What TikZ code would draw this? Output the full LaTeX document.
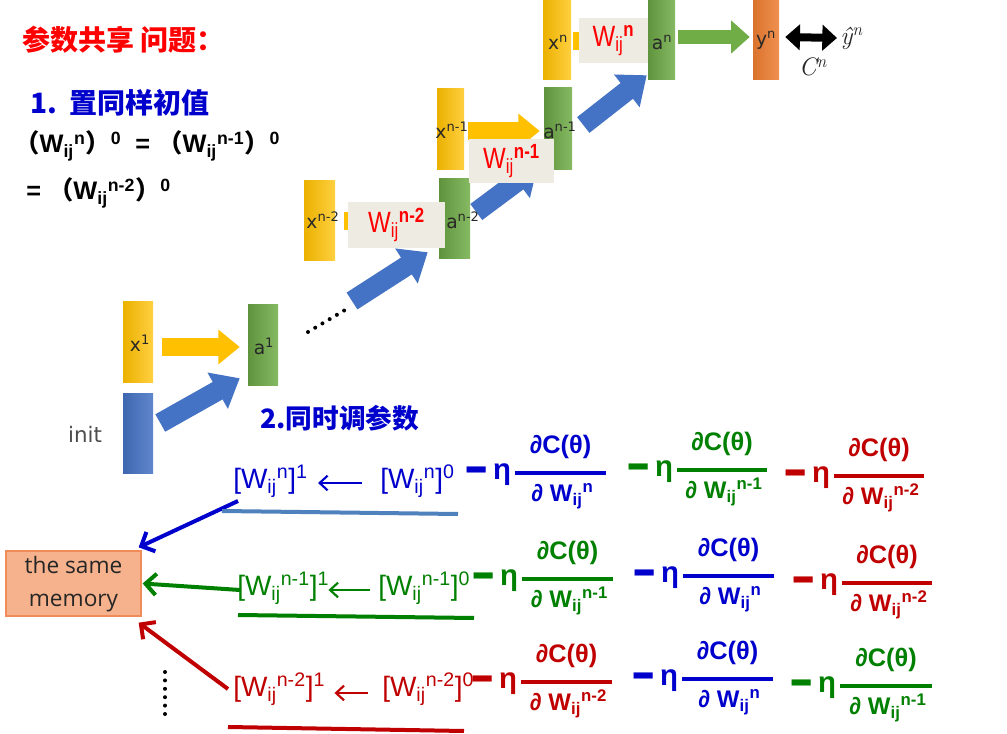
\documentclass[tikz,border=0pt]{standalone}
\usepackage{graphicx}
\usepackage{fontspec}
\setmainfont{Liberation Sans}
\newfontfamily\cjk{Noto Sans CJK SC}
\newfontfamily\dejavu{DejaVu Sans}
\newfontfamily\narrowsans{Liberation Sans}[FakeStretch=0.82]
\newfontfamily\opensans{Open Sans}
\newfontfamily\lmr{Latin Modern Roman}
\usetikzlibrary{arrows.meta,fit,calc}
\definecolor{tblue}{RGB}{0,0,204}
\definecolor{tgreen}{RGB}{0,128,0}
\definecolor{tred}{RGB}{192,0,0}
\definecolor{lblue}{RGB}{79,129,189}
\definecolor{ycol}{RGB}{255,192,0}
\definecolor{gcol}{RGB}{112,173,71}
\definecolor{bcol}{RGB}{68,114,196}
\definecolor{ocol}{RGB}{237,125,49}
\definecolor{boxbg}{RGB}{238,236,226}
\definecolor{memfill}{RGB}{246,178,140}
\definecolor{memdraw}{RGB}{240,140,90}
\definecolor{bartext}{RGB}{40,40,40}
\tikzset{
  bar/.style={inner sep=0pt, draw=none},
  ybar/.style={bar, left color=ycol!92!black, right color=ycol!75!white},
  gbar/.style={bar, left color=gcol!85!black, right color=gcol!85!white},
  bbar/.style={bar, left color=bcol!90!black, right color=bcol!85!white},
  obar/.style={bar, left color=ocol!92!black, right color=ocol!85!white},
  bartxt/.style={inner sep=0pt, text=bartext, font=\dejavu\fontsize{14}{16}\selectfont},
  wbox/.style={fill=boxbg, inner sep=0pt, text=red, font=\narrowsans\fontsize{22}{24}\selectfont},
  yarr/.style={draw=ycol, line width=13pt, -{Triangle[length=16pt,width=25pt]}},
  barr/.style={draw=bcol, line width=15pt, -{Triangle[length=19pt,width=30pt]}},
  garr/.style={draw=gcol, line width=11pt, -{Triangle[length=14pt,width=24pt]}},
  darr/.style={draw=black, line width=6pt, {Triangle[length=11pt,width=19pt]}-{Triangle[length=11pt,width=19pt]}},
  dotline/.style={draw=black, line width=3pt, line cap=round, dash pattern=on 0pt off 6.3pt},
  rowtxt/.style={anchor=west, inner sep=0pt, font=\fontsize{21}{24}\selectfont},
  smallarr/.style={line width=1.6pt, -{Straight Barb[length=6pt,width=11pt]}},
  memarr/.style={line width=3pt, -{Straight Barb[length=8pt,width=16pt]}},
  uline/.style={line width=3pt},
  fracline/.style={line width=2.3pt},
  minus/.style={inner sep=0pt, font=\bfseries\fontsize{22}{26}\selectfont},
  eta/.style={inner sep=0pt, font=\bfseries\fontsize{22}{26}\selectfont},
  numtxt/.style={anchor=base, inner sep=0pt, font=\bfseries\fontsize{19}{21}\selectfont},
  dentxt/.style={anchor=base, inner sep=0pt, font=\bfseries\fontsize{18}{20}\selectfont},
}
\newcommand\fracgrp[6]{%
  \node[minus,text=#2] (#1m) at (#3-38,#5+5) {\scalebox{1.3}[1.9]{−}};
  \node[eta,text=#2] (#1e) at (#3-13,#5+2) {η};
  \draw[fracline,#2] (#3,#5) -- (#4,#5);
  \node[numtxt,text=#2] (#1n) at ({(#3+#4)/2},#5-20) {∂C(θ)};
  \node[dentxt,text=#2] (#1d) at ({(#3+#4)/2+2},#5+28) {∂ W\textsubscript{ij}\textsuperscript{#6}};
}
\begin{document}
\begin{tikzpicture}[x=0.75pt,y=-0.75pt]
\path[use as bounding box, fill=white] (0,0) rectangle (1007,734);

% ---- top-left texts
\node[anchor=west, inner sep=0pt, text=red, font=\cjk\bfseries\fontsize{21}{24}\selectfont] (title) at (22,40) {参数共享 问题：};
\node[anchor=west, inner sep=0pt, text=tblue, font=\cjk\bfseries\fontsize{21}{24}\selectfont] (step1) at (30,103) {1.\ \ 置同样初值};
\node[anchor=west, inner sep=0pt, font=\bfseries\fontsize{19}{22}\selectfont] (eq1) at (14,146)
  {{\cjk （}W\textsubscript{ij}\textsuperscript{n}{\cjk ）}\textsuperscript{0}\ \ = {\cjk （}W\textsubscript{ij}\textsuperscript{n-1}{\cjk ）}\textsuperscript{0}};
\node[anchor=west, inner sep=0pt, font=\bfseries\fontsize{19}{22}\selectfont] (eq2) at (26,193)
  {= {\cjk （}W\textsubscript{ij}\textsuperscript{n-2}{\cjk ）}\textsuperscript{0}};

% ---- bars
\node[ybar, fit={(123,302) (153,382)}] (x1) {};
\node[bbar, fit={(123,393) (153,473)}] (init) {};
\node[gbar, fit={(248,305) (278,385)}] (a1) {};
\node[ybar, fit={(304,181) (335,261)}] (xn2) {};
\node[gbar, fit={(439,179) (470,259)}] (an2) {};
\node[ybar, fit={(437,89) (464,170)}] (xn1) {};
\node[gbar, fit={(544,88) (572,170)}] (an1) {};
\node[ybar, fit={(543,-4) (571,80)}] (xn) {};
\node[gbar, fit={(648,-4) (675,80)}] (an) {};
\node[obar, fit={(753,-4) (779,80)}] (yn) {};

% ---- big arrows
\draw[yarr] ([shift={(9,5)}]x1.east) -- ([shift={(-8,2)}]a1.west);
\draw[barr] ([shift={(7,-10)}]init.east) -- ([shift={(-8,-7)}]a1.south west);
\coordinate (dotsA) at (308,332);
\coordinate (dotsB) at (345,310);
\draw[dotline] (dotsA) -- (dotsB);
\coordinate (dotsend) at (352,301);
\draw[barr] (dotsend) -- ([shift={(-11,-7)}]an2.south west);
\draw[yarr] ([shift={(9,0)}]xn2.east) -- ([shift={(-8,2)}]an2.west);
\draw[barr] ([shift={(6,-7)}]an2.east) -- ([shift={(-6,-4)}]an1.south west);
\draw[yarr] ([shift={(4,1.5)}]xn1.east) -- ([shift={(-4,2)}]an1.west);
\draw[barr] ([shift={(11,-4)}]an1.east) -- ([shift={(-1,-5)}]an.south west);
\draw[yarr] ([shift={(2,3)}]xn.east) -- ([shift={(-8,3)}]an.west);
\draw[garr] ([shift={(3,-1)}]an.east) -- ([shift={(-3,-1)}]yn.west);

% ---- bar labels
\node[bartxt] (tx1) at (140,343) {x\textsuperscript{1}};
\node[bartxt] (ta1) at (264,346) {a\textsuperscript{1}};
\node[bartxt] (txn2) at (323,220) {x\textsuperscript{n-2}};
\node[bartxt] (tan2) at (463,220) {a\textsuperscript{n-2}};
\node[bartxt] (txn1) at (452,130) {x\textsuperscript{n-1}};
\node[bartxt] (tan1) at (560,130) {a\textsuperscript{n-1}};
\node[bartxt] (txn) at (558,42) {x\textsuperscript{n}};
\node[bartxt] (tan) at (662,42) {a\textsuperscript{n}};
\node[bartxt] (tyn) at (766,40) {y\textsuperscript{n}};
\node[bartxt, text=black!70, font=\dejavu\fontsize{16}{18}\selectfont] (tinit) at (85,434) {init};

% ---- output / cost
\node[anchor=west, inner sep=0pt, text=bartext, font=\lmr\itshape\fontsize{19}{22}\selectfont] (yhat) at (840,38) {ŷ\textsuperscript{n}};
\node[inner sep=0pt, text=bartext, font=\lmr\itshape\fontsize{19}{22}\selectfont] (cn) at (813,67) {C\textsuperscript{n}};
\draw[darr] ([shift={(6,-1)}]yn.east) -- ([shift={(-3,0)}]yhat.west);

% ---- W label boxes
\node[wbox, minimum width=51.75pt, minimum height=33.75pt] (wn) at (613.5,40.5) {W\textsubscript{ij}\textsuperscript{\bfseries n}};
\node[wbox, minimum width=63.75pt, minimum height=33pt] (wn1) at (511.5,161) {W\textsubscript{ij}\textsuperscript{\bfseries n-1}};
\node[wbox, minimum width=72.75pt, minimum height=34.5pt] (wn2) at (396.5,225) {W\textsubscript{ij}\textsuperscript{\bfseries n-2}};

% ---- step 2
\node[anchor=west, inner sep=0pt, text=tblue, font=\cjk\bfseries\fontsize{20}{24}\selectfont] (step2) at (260,418) {2.同时调参数};

% ---- memory box
\node[fill=memfill, draw=memdraw, line width=1pt, inner sep=0pt, fit={(6,551) (141,616)}] (mem) {};
\node[inner sep=0pt, align=center, text=black!85, font=\opensans\fontsize{17}{24.75}\selectfont] (memtxt) at (73.5,584) {the same\\memory};

% ---- rows
\node[rowtxt, text=tblue] (r1a) at (233,481) {[W\textsubscript{ij}\textsuperscript{n}]\textsuperscript{1}};
\node[rowtxt, text=tblue] (r1b) at (380,481) {[W\textsubscript{ij}\textsuperscript{n}]\textsuperscript{0}};
\draw[smallarr, tblue] ([shift={(-18,2)}]r1b.west) -- ([shift={(10,2)}]r1a.east);

\node[rowtxt, text=tgreen] (r2a) at (237,588) {[W\textsubscript{ij}\textsuperscript{n-1}]\textsuperscript{1}};
\node[rowtxt, text=tgreen] (r2b) at (378,588) {[W\textsubscript{ij}\textsuperscript{n-1}]\textsuperscript{0}};
\draw[smallarr, tgreen] ([shift={(-8,2)}]r2b.west) -- ([shift={(-1,2)}]r2a.east);

\node[rowtxt, text=tred] (r3a) at (233,689) {[W\textsubscript{ij}\textsuperscript{n-2}]\textsuperscript{1}};
\node[rowtxt, text=tred] (r3b) at (382,689) {[W\textsubscript{ij}\textsuperscript{n-2}]\textsuperscript{0}};
\draw[smallarr, tred] ([shift={(-14,4)}]r3b.west) -- ([shift={(9,4)}]r3a.east);

\draw[memarr, tblue] ([shift={(5,20)}]r1a.west) -- ([shift={(-3,-3)}]mem.north east);
\draw[memarr, tgreen] ([shift={(3,2)}]r2a.west) -- ([shift={(1,0)}]mem.east);
\draw[memarr, tred] ([shift={(-5,0)}]r3a.west) -- ([shift={(-3,6)}]mem.south east);

\draw[uline, lblue] (222,511) -- (458,514);
\draw[uline, tgreen] (238,615) -- (474,618);
\draw[uline, tred] (228,727) -- (464,731);

\coordinate (vdA) at (165,672);
\coordinate (vdB) at (165,717);
\draw[dotline] (vdA) -- (vdB);

% ---- gradient terms
\fracgrp{fa}{tblue}{515}{606}{473}{n}
\fracgrp{fb}{tgreen}{677}{767}{470}{n-1}
\fracgrp{fc}{tred}{834}{924}{476}{n-2}
\fracgrp{fd}{tgreen}{522}{613}{579}{n-1}
\fracgrp{fe}{tblue}{683}{774}{576}{n}
\fracgrp{ff}{tred}{842}{932}{583}{n-2}
\fracgrp{fg}{tred}{521}{612}{682}{n-2}
\fracgrp{fh}{tblue}{682}{773}{679}{n}
\fracgrp{fi}{tgreen}{840}{932}{686}{n-1}
\end{tikzpicture}
\end{document}
